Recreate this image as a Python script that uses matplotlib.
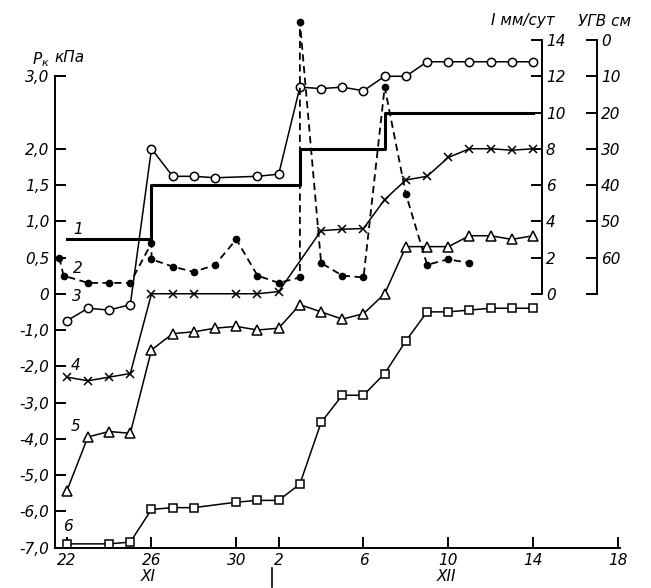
import numpy as np
import matplotlib
matplotlib.use("Agg")
from matplotlib import pyplot as plt
from matplotlib import transforms

plt.rcParams['font.family'] = ['DejaVu Sans']
plt.rcParams['font.style'] = 'italic'

# days counted from 22 Nov (0) to 18 Dec (26)
tick_days = [0, 4, 8, 10, 14, 18, 22, 26]
tick_names = ['22', '26', '30', '2', '6', '10', '14', '18']

# 1 - groundwater level (УГВ, cm), step line
gw_days = [0, 4, 11, 15, 22]
gw_cm = [55, 40, 30, 20, 20]

# 2 - intensity I, mm/day
i_days = [-0.35, -0.15, 1, 2, 3, 4, 4, 5, 6, 7, 8, 9, 10, 11, 11, 12, 13, 14, 15, 16, 17, 18, 19]
i_mm = [2.0, 1.0, 0.6, 0.6, 0.6, 2.8, 1.9, 1.5, 1.2, 1.6, 3.0, 1.0, 0.6, 0.9, 15.0,
        1.7, 1.0, 0.9, 11.4, 5.5, 1.6, 1.9, 1.7]

# 3..6 - P_k, kPa
p3_days = [0, 1, 2, 3, 4, 5, 6, 7, 9, 10, 11, 12, 13, 14, 15, 16, 17, 18, 19, 20, 21, 22]
p3 = [-0.75, -0.4, -0.45, -0.3, 2.0, 1.62, 1.62, 1.6, 1.62, 1.65, 2.85, 2.83, 2.85, 2.8,
      3.0, 3.0, 3.2, 3.2, 3.2, 3.2, 3.2, 3.2]

p4_days = [0, 1, 2, 3, 4, 5, 6, 8, 9, 10, 12, 13, 14, 15, 16, 17, 18, 19, 20, 21, 22]
p4 = [-2.3, -2.4, -2.3, -2.2, 0, 0, 0, 0, 0, 0.03, 0.87, 0.89, 0.9, 1.3, 1.57, 1.62,
      1.88, 2.0, 2.0, 1.98, 2.0]

p5_days = list(range(0, 23))
p5 = [-5.45, -3.95, -3.8, -3.85, -1.55, -1.1, -1.05, -0.95, -0.9, -1.0, -0.95, -0.3,
      -0.5, -0.7, -0.55, 0.0, 0.65, 0.65, 0.65, 0.8, 0.8, 0.75, 0.8]

p6_days = [0, 2, 3, 4, 5, 6, 8, 9, 10, 11, 12, 13, 14, 15, 16, 17, 18, 19, 20, 21, 22]
p6 = [-6.9, -6.9, -6.85, -5.95, -5.9, -5.9, -5.75, -5.7, -5.7, -5.25, -3.55, -2.8, -2.8,
      -2.2, -1.3, -0.5, -0.5, -0.45, -0.4, -0.4, -0.4]

p_ticks = [-7, -6, -5, -4, -3, -2, -1, 0, 0.5, 1, 1.5, 2, 3]
p_names = ['-7,0', '-6,0', '-5,0', '-4,0', '-3,0', '-2,0', '-1,0', '0', '0,5', '1,0',
           '1,5', '2,0', '3,0']


def fwd(y):
    y = np.asarray(y, dtype=float)
    return np.where(y >= 0, y, y / 2)


def inv(t):
    t = np.asarray(t, dtype=float)
    return np.where(t >= 0, t, t * 2)


fig = plt.figure(figsize=(6.51, 5.88), dpi=100)
ax = fig.add_axes([55 / 651, 40.5 / 588, 565 / 651, 532.5 / 588])
ax.set_yscale('function', functions=(fwd, inv))
t_top = 3.845
ax.set_ylim(-7, t_top)
ax.set_xlim(-0.552, 26.1)

lw = 1.1
ax.plot(p3_days, p3, '-o', color='black', lw=lw, ms=6, mfc='white', mew=1.1)
ax.plot(p4_days, p4, '-x', color='black', lw=lw, ms=5.5, mew=1.1)
ax.plot(p5_days, p5, '-^', color='black', lw=lw, ms=6.5, mfc='white', mew=1.1)
ax.plot(p6_days, p6, '-s', color='black', lw=lw, ms=5.5, mfc='white', mew=1.1)

for s in ['top', 'right']:
    ax.spines[s].set_visible(False)
ax.spines['left'].set_bounds(-7, 3)
ax.spines['left'].set_linewidth(1.4)
ax.spines['bottom'].set_linewidth(1.4)
ax.set_yticks(p_ticks)
ax.set_yticklabels(p_names)
ax.yaxis.set_minor_locator(plt.NullLocator())
ax.set_xticks(tick_days)
ax.set_xticklabels(tick_names)
ax.tick_params(direction='in', length=8, width=1.4, labelsize=11, pad=4)

# I axis
ax_i = ax.twinx()
ax_i.set_ylim(-3.5 * 4, t_top * 4)
ax_i.plot(i_days, i_mm, '--o', color='black', lw=1.3, ms=4.5, dashes=(4, 2.5))
for s in ['top', 'left', 'bottom']:
    ax_i.spines[s].set_visible(False)
ax_i.spines['right'].set_position(('axes', (541.7 - 55) / 565))
ax_i.spines['right'].set_bounds(0, 14)
ax_i.spines['right'].set_linewidth(1.4)
ax_i.set_yticks(range(0, 15, 2))
ax_i.tick_params(direction='in', length=8, width=1.4, labelsize=11, pad=3)

# groundwater axis
ax_g = ax.twinx()
ax_g.set_ylim((3.5 + 3.5) * 20, (3.5 - t_top) * 20)
ax_g.step(gw_days, gw_cm, where='post', color='black', lw=2.2)
for s in ['top', 'left', 'bottom']:
    ax_g.spines[s].set_visible(False)
ax_g.spines['right'].set_position(('axes', (596.7 - 55) / 565))
ax_g.spines['right'].set_bounds(0, 70)
ax_g.spines['right'].set_linewidth(1.4)
ax_g.set_yticks(range(0, 71, 10))
ax_g.set_yticklabels([str(v) for v in range(0, 61, 10)] + [''])
ax_g.tick_params(direction='in', length=8, width=1.4, labelsize=11, pad=3)

# curve numbers
for txt, xd, yp in [('1', 0.53, 0.88), ('2', 0.53, 0.35), ('3', 0.47, -0.08),
                    ('4', 0.44, -1.99), ('5', 0.44, -3.67), ('6', 0.08, -6.43)]:
    ax.text(xd, yp, txt, fontsize=11, ha='center', va='center')

# month marks
trans = transforms.blended_transform_factory(ax.transData, ax.transAxes)
ax.text(3.85, -0.055, 'XI', transform=trans, fontsize=11, ha='center', va='center')
ax.text(17.9, -0.055, 'XII', transform=trans, fontsize=11, ha='center', va='center')
ax.plot([9.7, 9.7], [-0.038, -0.074], transform=trans, color='black', lw=1.2, clip_on=False)

# axis titles
fig.text(33 / 651, 1 - 59 / 588, 'P', fontsize=11, va='center')
fig.text(42 / 651, 1 - 63 / 588, 'к', fontsize=8, va='center')
fig.text(54 / 651, 1 - 58 / 588, 'кПа', fontsize=11, va='center')
fig.text(491 / 651, 1 - 21 / 588, 'I мм/сут', fontsize=11, va='center')
fig.text(578 / 651, 1 - 21 / 588, 'УГВ см', fontsize=11, va='center')

fig.savefig('out.png', dpi=100)
